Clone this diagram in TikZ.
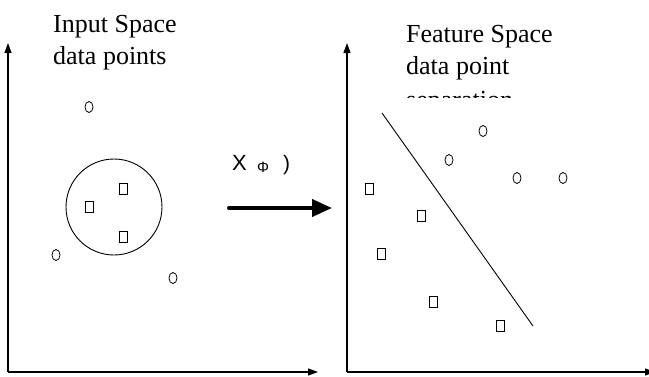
\documentclass[tikz,border=0pt]{standalone}
\usepackage{fontspec}
\setmainfont{Liberation Serif}
\newfontfamily\arialfont{Liberation Sans}
\usetikzlibrary{arrows.meta,shapes.geometric}

\begin{document}
\begin{tikzpicture}[x=1pt,y=-1pt,
  axis/.style={line width=1.1pt,-{Triangle[length=10pt,width=7pt]}},
  dotpt/.style={ellipse,draw,line width=0.8pt,minimum width=8pt,minimum height=11pt,inner sep=0pt},
  boxpt/.style={rectangle,draw,line width=0.8pt,minimum width=8pt,minimum height=11pt,inner sep=0pt},
  title/.style={anchor=base west,inner sep=0pt,font=\fontsize{26}{32}\selectfont},
  maplbl/.style={anchor=base west,inner sep=0pt}]
\clip (0,0) rectangle (649,376);
% axes of the two spaces
\coordinate (inO) at (8,372);
\coordinate (inY) at (8,43);
\coordinate (inX) at (318,372);
\coordinate (ftO) at (347,372);
\coordinate (ftY) at (347,43);
\coordinate (ftX) at (655,372);
\draw[axis] (inO) -- (inY);
\draw[axis] (inO) -- (inX);
\draw[axis] (ftO) -- (ftY);
\draw[axis] (ftO) -- (ftX);
% titles
\node[title] (inTitle) at (53,32) {Input Space};
\node[title] (inSub) at (53,64) {data points};
\node[title] (ftTitle) at (406,42) {Feature Space};
\node[title] (ftSub) at (406,74) {data point};
\begin{scope}
\clip (400,0) rectangle (570,97.5);
\node[title] (ftCut) at (406,108.5) {separation};
\end{scope}
% input space points
\node[circle,draw,line width=0.9pt,minimum size=96pt,inner sep=0pt] (cluster) at (114,207) {};
\node[dotpt] (inA) at (89,107) {};
\node[dotpt] (inB) at (56,255) {};
\node[dotpt] (inC) at (173,278) {};
\node[boxpt] (inP) at (123,189) {};
\node[boxpt] (inQ) at (89,207) {};
\node[boxpt] (inR) at (123,237) {};
% mapping
\node[maplbl,font=\arialfont\fontsize{22}{24}\selectfont] (mapX) at (232,170) {X};
\node[maplbl,font=\arialfont\fontsize{15}{18}\selectfont] (mapPhi) at (257,172) {Φ};
\node[maplbl,font=\arialfont\fontsize{21}{24}\selectfont] (mapPar) at (283,170) {)};
\coordinate (mapFrom) at (229,208);
\coordinate (mapTo) at (332,208);
\draw[line width=4pt,line cap=round,-{Triangle[length=20pt,width=17pt]}] (mapFrom) -- (mapTo);
% feature space points
\coordinate (sepTop) at (382,113);
\coordinate (sepBot) at (533,326);
\draw[line width=0.9pt] (sepTop) -- (sepBot);
\node[dotpt] (ftA) at (483,131) {};
\node[dotpt] (ftB) at (449,160) {};
\node[dotpt] (ftC) at (517,178) {};
\node[dotpt] (ftD) at (563,178) {};
\node[boxpt] (ftP) at (369,189) {};
\node[boxpt] (ftQ) at (421,216) {};
\node[boxpt] (ftR) at (381,254) {};
\node[boxpt] (ftS) at (433,302) {};
\node[boxpt] (ftT) at (500,326) {};
\end{tikzpicture}
\end{document}
